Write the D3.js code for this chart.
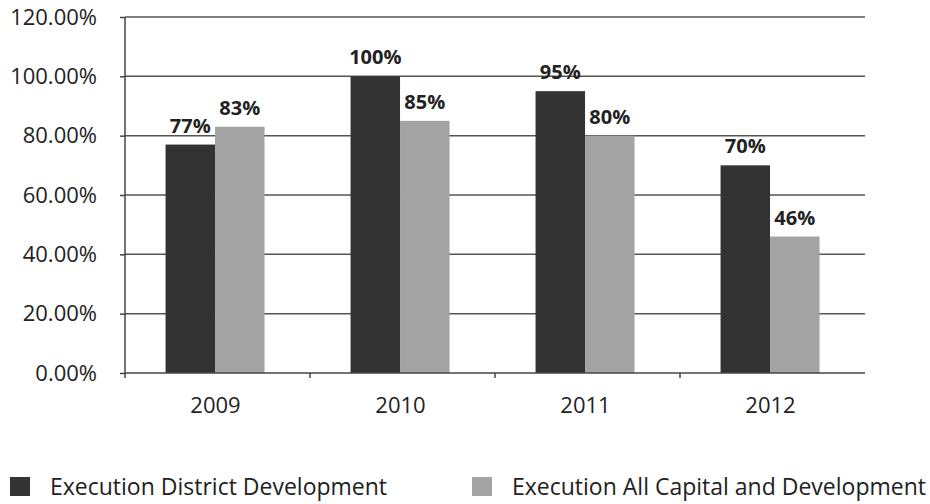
<!DOCTYPE html>
<html>
<head>
<meta charset="utf-8">
<script src="https://cdn.jsdelivr.net/npm/d3@7"></script>
<style>
  body { margin: 0; background: #fff; }
  svg text { font-family: "Open Sans", "Noto Sans", sans-serif; fill: #222; }
</style>
</head>
<body>
<div id="vis"></div>
<script>
// Chart data
var years = ['2009', '2010', '2011', '2012'];
var seriesNames = ['Execution District Development', 'Execution All Capital and Development'];
var districtDev = [77, 100, 95, 70];
var allCapitalDev = [83, 85, 80, 46];
var yTicks = [0, 20, 40, 60, 80, 100, 120];

var seriesColors = ['#333333', '#a3a3a3'];

function drawChart() {
  var width = 930;
  var height = 504;
  var margin = { top: 17, right: 65, bottom: 131, left: 125 };
  var innerW = width - margin.left - margin.right;
  var innerH = height - margin.top - margin.bottom;

  var svg = d3.select('#vis')
    .append('svg')
    .attr('width', width)
    .attr('height', height);

  var g = svg.append('g')
    .attr('transform', 'translate(' + margin.left + ',' + margin.top + ')');

  var x0 = d3.scaleBand()
    .domain(years)
    .range([0, innerW]);

  // two bars side by side, roughly half of each band
  var x1 = d3.scaleBand()
    .domain([0, 1])
    .range([x0.bandwidth() * 0.23, x0.bandwidth() * 0.765]);

  var y = d3.scaleLinear()
    .domain([0, 120])
    .range([innerH, 0]);

  // gridlines
  g.append('g')
    .selectAll('line')
    .data(yTicks.slice(1))
    .join('line')
    .attr('x1', 0)
    .attr('x2', innerW)
    .attr('y1', function (d) { return y(d); })
    .attr('y2', function (d) { return y(d); })
    .attr('stroke', '#555')
    .attr('stroke-width', 1.5);

  // y axis
  var yAxis = g.append('g')
    .call(d3.axisLeft(y)
      .tickValues(yTicks)
      .tickSize(5)
      .tickPadding(23)
      .tickFormat(function (d) { return d.toFixed(2) + '%'; }));
  yAxis.select('.domain')
    .attr('d', 'M0,' + (innerH + 5) + 'V0')
    .attr('stroke', '#444')
    .attr('stroke-width', 1.5);
  yAxis.selectAll('.tick line').attr('stroke', '#444').attr('stroke-width', 1.5);
  yAxis.selectAll('.tick text')
    .style('font-size', '22px')
    .attr('fill', '#222');

  // bars
  var groups = g.selectAll('.year')
    .data(years)
    .join('g')
    .attr('class', 'year')
    .attr('transform', function (d) { return 'translate(' + (x0(d) - 2) + ',0)'; });

  groups.selectAll('rect')
    .data(function (d, i) {
      return [
        { s: 0, v: districtDev[i] },
        { s: 1, v: allCapitalDev[i] }
      ];
    })
    .join('rect')
    .attr('x', function (d) { return x1(d.s); })
    .attr('width', x1.bandwidth())
    .attr('y', function (d) { return y(d.v); })
    .attr('height', function (d) { return innerH - y(d.v); })
    .attr('fill', function (d) { return seriesColors[d.s]; });

  // value labels
  groups.selectAll('.val')
    .data(function (d, i) {
      return [
        { s: 0, v: districtDev[i] },
        { s: 1, v: allCapitalDev[i] }
      ];
    })
    .join('text')
    .attr('class', 'val')
    .attr('x', function (d) { return x1(d.s) + x1.bandwidth() / 2; })
    .attr('y', function (d) { return y(d.v) - 12; })
    .attr('text-anchor', 'middle')
    .style('font-size', '20px')
    .style('font-weight', 'bold')
    .attr('fill', '#111')
    .text(function (d) { return d.v + '%'; });

  // x axis
  var xAxis = g.append('g')
    .attr('transform', 'translate(0,' + innerH + ')');
  xAxis.append('line')
    .attr('x1', 0)
    .attr('x2', innerW)
    .attr('stroke', '#444')
    .attr('stroke-width', 1.5);
  xAxis.selectAll('.xtick')
    .data(years.slice(1))
    .join('line')
    .attr('class', 'xtick')
    .attr('x1', function (d) { return x0(d); })
    .attr('x2', function (d) { return x0(d); })
    .attr('y1', 0)
    .attr('y2', 5)
    .attr('stroke', '#444')
    .attr('stroke-width', 1.5);
  xAxis.selectAll('.xlabel')
    .data(years)
    .join('text')
    .attr('class', 'xlabel')
    .attr('x', function (d) { return x0(d) + x0.bandwidth() / 2 - 2; })
    .attr('y', 40)
    .attr('text-anchor', 'middle')
    .style('font-size', '22px')
    .text(function (d) { return d; });

  // legend
  var legendX = [10, 472];
  var legend = svg.selectAll('.legend')
    .data(seriesNames)
    .join('g')
    .attr('class', 'legend')
    .attr('transform', function (d, i) { return 'translate(' + legendX[i] + ',477)'; });
  legend.append('rect')
    .attr('width', 20)
    .attr('height', 19)
    .attr('fill', function (d, i) { return seriesColors[i]; });
  legend.append('text')
    .attr('x', 40)
    .attr('y', 18)
    .style('font-size', '23px')
    .text(function (d) { return d; });
}

drawChart();
</script>
</body>
</html>
